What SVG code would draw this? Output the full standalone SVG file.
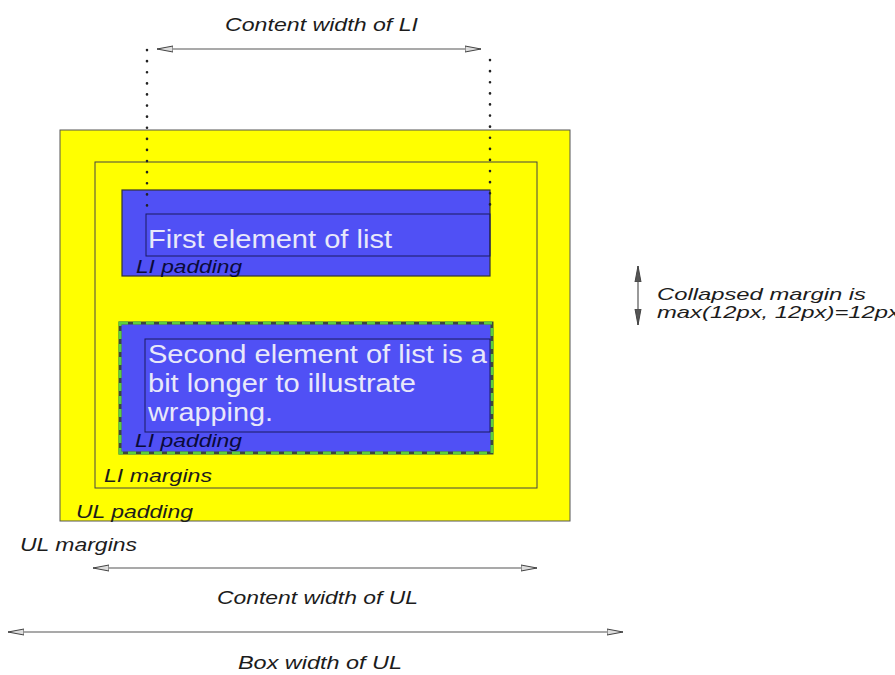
<svg xmlns="http://www.w3.org/2000/svg" width="895" height="675" viewBox="0 0 895 675">
<defs>
<style>
.lbl{font-family:"Liberation Sans",Arial,sans-serif;font-style:italic;font-size:19px;fill:#1c1c1c}
.lbl-s{font-family:"Liberation Sans",Arial,sans-serif;font-style:italic;font-size:17px;fill:#1c1c1c}
.lbl-b{font-family:"Liberation Sans",Arial,sans-serif;font-style:italic;font-size:19px;fill:#0a0a38}
.item{font-family:"Liberation Sans",Arial,sans-serif;font-size:26px;fill:#e8e8fa}
.dim{stroke:#555;stroke-width:1.2;fill:none}
.dot{stroke:#222;stroke-width:2.6;stroke-linecap:round;stroke-dasharray:0.1 11;fill:none}
</style>
<marker id="ah" viewBox="0 0 16 8" refX="16" refY="4" markerWidth="16" markerHeight="8" markerUnits="userSpaceOnUse" orient="auto-start-reverse">
<path d="M0,1 L16,4 L0,7 Z" fill="#ddd" stroke="#444" stroke-width="1"/>
</marker>
<marker id="ahv" viewBox="0 0 16 8" refX="16" refY="4" markerWidth="16" markerHeight="8" markerUnits="userSpaceOnUse" orient="auto-start-reverse">
<path d="M0,1 L16,4 L0,7 Z" fill="#555" stroke="#444" stroke-width="1"/>
</marker>
</defs>
<rect width="895" height="675" fill="#ffffff"/>

<g id="ul-box">
<rect x="60" y="130" width="510" height="391" fill="#ffff00" stroke="#555" stroke-width="1"/>
<rect x="95" y="162" width="442" height="326" fill="none" stroke="#444" stroke-width="1"/>
</g>

<g id="li-1">
<rect x="122" y="190" width="368" height="86" fill="#5050f5" stroke="#333" stroke-width="1.2"/>
<rect x="146" y="214" width="344" height="42" fill="none" stroke="#1a1a60" stroke-width="1"/>
<text class="item" x="148" y="248" textLength="244" lengthAdjust="spacingAndGlyphs">First element of list</text>
<text class="lbl-b" x="136" y="273" textLength="106" lengthAdjust="spacingAndGlyphs">LI padding</text>
</g>

<g id="li-2">
<rect x="120" y="323" width="372" height="130" fill="#5050f5" stroke="#3a4a3a" stroke-width="3"/>
<rect x="120" y="323" width="372" height="130" fill="none" stroke="#5ccf3c" stroke-width="3" stroke-dasharray="8 5"/>
<rect x="145" y="339" width="345" height="93" fill="none" stroke="#1a1a60" stroke-width="1"/>
<text class="item" x="148" y="363" textLength="339" lengthAdjust="spacingAndGlyphs">Second element of list is a</text>
<text class="item" x="148" y="392" textLength="268" lengthAdjust="spacingAndGlyphs">bit longer to illustrate</text>
<text class="item" x="148" y="421" textLength="125" lengthAdjust="spacingAndGlyphs">wrapping.</text>
<text class="lbl-b" x="135" y="447" textLength="107" lengthAdjust="spacingAndGlyphs">LI padding</text>
</g>

<g id="labels">
<text class="lbl" x="104" y="482" textLength="108" lengthAdjust="spacingAndGlyphs">LI margins</text>
<text class="lbl" x="76" y="518" textLength="117" lengthAdjust="spacingAndGlyphs">UL padding</text>
<text class="lbl" x="20" y="551" textLength="117" lengthAdjust="spacingAndGlyphs">UL margins</text>
<text class="lbl" x="225" y="31" textLength="193" lengthAdjust="spacingAndGlyphs">Content width of LI</text>
<text class="lbl" x="217" y="604" textLength="201" lengthAdjust="spacingAndGlyphs">Content width of UL</text>
<text class="lbl" x="238" y="669" textLength="164" lengthAdjust="spacingAndGlyphs">Box width of UL</text>
<text class="lbl-s" x="657" y="300" textLength="209" lengthAdjust="spacingAndGlyphs">Collapsed margin is</text>
<text class="lbl-s" x="657" y="318" textLength="243" lengthAdjust="spacingAndGlyphs">max(12px, 12px)=12px</text>
</g>

<g id="connectors">
<path class="dot" d="M147,50 V215"/>
<path class="dot" d="M490,60 V215"/>
<path class="dim" d="M157,49 H481" marker-start="url(#ah)" marker-end="url(#ah)"/>
<path class="dim" d="M93,568 H537" marker-start="url(#ah)" marker-end="url(#ah)"/>
<path class="dim" d="M8,632 H623" marker-start="url(#ah)" marker-end="url(#ah)"/>
<path class="dim" d="M638,266 V325" marker-start="url(#ahv)" marker-end="url(#ahv)"/>
</g>
</svg>
